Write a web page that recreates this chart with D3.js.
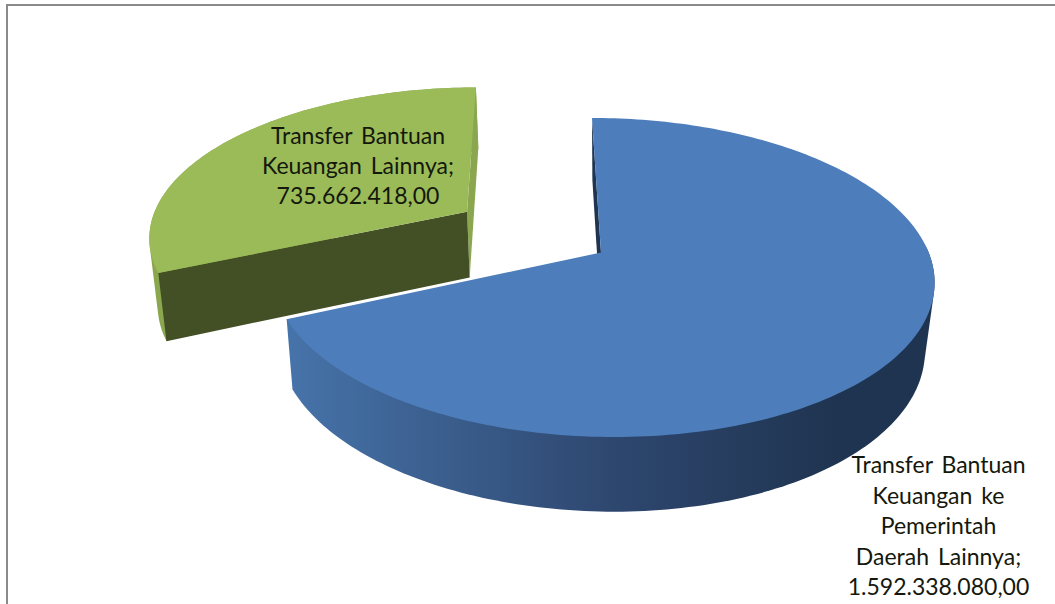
<!DOCTYPE html>
<html>
<head>
<meta charset="utf-8">
<script src="https://cdn.jsdelivr.net/npm/d3@7"></script>
<style>
  html, body { margin: 0; padding: 0; background: #fff; overflow: hidden; }
  svg { display: block; }
  .label { font-family: Lato, "Open Sans", sans-serif; font-size: 23px; fill: #14180c; text-anchor: middle; word-spacing: 3px; }
</style>
</head>
<body>
<svg id="chart" width="1055" height="604"></svg>
<script>
var categories = ["Transfer Bantuan Keuangan ke Pemerintah Daerah Lainnya", "Transfer Bantuan Keuangan Lainnya"];
var values = [1592338080, 735662418];
var valueLabels = ["1.592.338.080,00", "735.662.418,00"];
var labelLines = [
  ["Transfer Bantuan", "Keuangan ke", "Pemerintah", "Daerah Lainnya;"],
  ["Transfer Bantuan", "Keuangan Lainnya;"]
];
var explodes = [0, 0.5];

var width = 1055, height = 604;
var svg = d3.select("#chart");

// frame
svg.append("path")
  .attr("d", "M7,604V5H1055")
  .attr("fill", "none")
  .attr("stroke", "#8a8a8a")
  .attr("stroke-width", 2);

var defs = svg.append("defs");
var grad = defs.append("linearGradient")
  .attr("id", "blueWall")
  .attr("gradientUnits", "userSpaceOnUse")
  .attr("x1", 290).attr("x2", 935).attr("y1", 0).attr("y2", 0);
grad.append("stop").attr("offset", 0).attr("stop-color", "#4673a9");
grad.append("stop").attr("offset", 0.5).attr("stop-color", "#2e476f");
grad.append("stop").attr("offset", 0.85).attr("stop-color", "#1f3450");
grad.append("stop").attr("offset", 1).attr("stop-color", "#1f3450");

// pie disc (u,v) to screen, tilted with a little perspective
var project = function(u, v) {
  var w = 1 - 0.1567 * v - 0.002 * u;
  return [601 + (327 * u + 10.4 * v) / w, 252.5 + (155.6 * v) / w];
};
// same point on the underside of the pie
var under = function(p) {
  var k = p[0] > 612 ? 0.97 : 0.982;
  return [612 + (p[0] - 612) * k, p[1] + 70 + 0.04 * (p[1] - 320)];
};

var pie = d3.pie().sort(null)(values);
var line = d3.line();

var slices = pie.map(function(d, i) {
  var mid = (d.startAngle + d.endAngle) / 2;
  var ou = explodes[i] * Math.sin(mid);
  var ov = -explodes[i] * Math.cos(mid);
  var point = function(a, r) {
    return project(ou + r * Math.sin(a), ov - r * Math.cos(a));
  };
  var n = Math.ceil((d.endAngle - d.startAngle) / 0.02);
  var rim = d3.range(n + 1).map(function(k) {
    return point(d.startAngle + (d.endAngle - d.startAngle) * k / n, 1);
  });
  return { index: i, point: point, rim: rim, apex: point(0, 0), start: rim[0], end: rim[n] };
});

// outer wall, the hull gives the straight silhouette between both rims
var wall = function(pts) {
  return line(d3.polygonHull(pts.concat(pts.map(under)))) + "Z";
};

// green slice
var g = slices[1];
var gGroup = svg.append("g").attr("class", "slice slice1");
gGroup.append("path")
  .attr("d", line([g.end, under(g.end), under(g.apex), g.apex]) + "Z")
  .attr("fill", "#8aa64f");
gGroup.append("path").attr("d", wall(g.rim)).attr("fill", "#8aa64f");
gGroup.append("path")
  .attr("d", line([g.apex, under(g.apex), under(g.start), g.start]) + "Z")
  .attr("fill", "#434f25");
gGroup.append("path")
  .attr("d", line([g.apex].concat(g.rim)) + "Z")
  .attr("fill", "#9bbb59");

// blue slice, wall only from the right side round to the cut
var b = slices[0];
var bGroup = svg.append("g").attr("class", "slice slice0");
bGroup.append("path")
  .attr("d", wall(b.rim.slice(Math.floor(b.rim.length * 0.36))))
  .attr("fill", "url(#blueWall)");
bGroup.append("path")
  .attr("d", line([b.start, under(b.start), under(b.apex), b.apex]) + "Z")
  .attr("fill", "#1f3450");
bGroup.append("path")
  .attr("d", line([b.apex].concat(b.rim)) + "Z")
  .attr("fill", "#4d7ebb");

// labels
var labelPos = [[938.5, 473, 30.5], [358, 144, 30]];
labelPos.forEach(function(pos, i) {
  var lines = labelLines[i].concat([valueLabels[i]]);
  var t = svg.append("text")
    .attr("class", "label")
    .attr("y", pos[1]);
  t.selectAll("tspan")
    .data(lines)
    .enter()
    .append("tspan")
    .attr("x", pos[0])
    .attr("y", function(d, k) { return pos[1] + k * pos[2]; })
    .text(function(d) { return d; });
});
</script>
</body>
</html>
